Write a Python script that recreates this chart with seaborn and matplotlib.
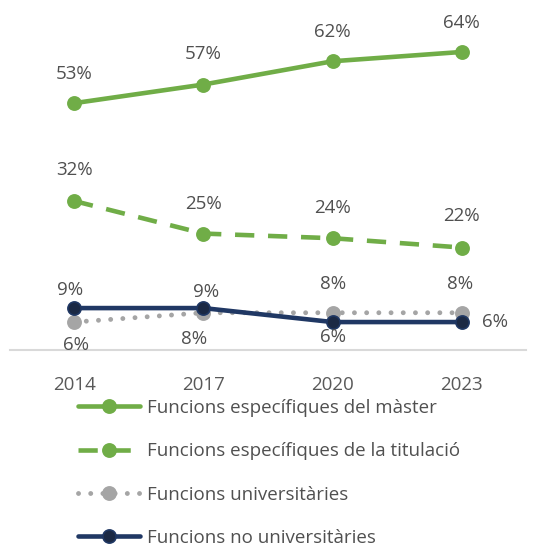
import matplotlib

matplotlib.use("Agg")
import matplotlib.pyplot as plt
import pandas as pd
import seaborn as sns

years = ["2014", "2017", "2020", "2023"]
master = [53, 57, 62, 64]
titulacio = [32, 25, 24, 22]
universitaries = [6, 8, 8, 8]
no_universitaries = [9, 9, 6, 6]

labels = [
    "Funcions específiques del màster",
    "Funcions específiques de la titulació",
    "Funcions universitàries",
    "Funcions no universitàries",
]

sns.set_theme(style="white")
plt.rcParams["font.family"] = ["Open Sans", "DejaVu Sans"]

GREEN = "#70AD47"
GRAY = "#A5A5A5"
NAVY = "#203864"
TEXT = "#505050"
FS = 13.5

fig = plt.figure(figsize=(5.59, 5.48), dpi=100)
ax = fig.add_axes([9.5 / 559, 1 - 350 / 548, 517 / 559, 326 / 548])

styles = [
    dict(color=GREEN, lw=3.3, ls="-", mfc=GREEN, mec=GREEN),
    dict(color=GREEN, lw=3.3, ls=(0, (4.2, 3.0)), mfc=GREEN, mec=GREEN),
    dict(color=GRAY, lw=3.5, ls=(0, (0.01, 2.5)), mfc=GRAY, mec=GRAY),
    dict(color=NAVY, lw=3.3, ls="-", mfc="#1B2944", mec=NAVY),
]
series = [master, titulacio, universitaries, no_universitaries]

handles = []
for vals, lab, st in zip(series, labels, styles):
    df = pd.DataFrame({"year": years, "value": vals})
    sns.lineplot(data=df, x="year", y="value", ax=ax, color=st["color"],
                 linewidth=st["lw"], marker="o", markersize=9.5,
                 markerfacecolor=st["mfc"], markeredgecolor=st["mec"],
                 markeredgewidth=1.2, label=lab)
    line = ax.get_lines()[-1]
    line.set_linestyle(st["ls"])
    if st["color"] == GRAY:
        line.set_dash_capstyle("round")
    handles.append(line)

# data labels: offsets in pixels (dx, dy)
offsets = [
    [(0, 29), (0, 31), (0, 29), (0, 29)],
    [(0, 31), (0, 30), (0, 30), (0, 32)],
    [(2, -23), (-9, -26), (0, 29), (-2, 29)],
    [(-4, 18), (3, 16), (0, -15), (33, 0)],
]
for vals, offs in zip(series, offsets):
    for i, (v, (dx, dy)) in enumerate(zip(vals, offs)):
        ax.annotate(f"{v}%", (i, v), xytext=(dx, dy), textcoords="offset pixels",
                    ha="center", va="center", fontsize=FS, color=TEXT)

ax.set_xlim(-0.5, 3.5)
ax.set_ylim(0, 70)
ax.set_yticks([])
ax.set_xlabel("")
ax.set_ylabel("")
for s in ["top", "right", "left"]:
    ax.spines[s].set_visible(False)
ax.spines["bottom"].set_color("#D9D9D9")
ax.spines["bottom"].set_linewidth(1.5)
ax.tick_params(axis="x", length=0, pad=19, labelsize=FS, labelcolor="#595959")
ax.get_legend().remove()

fig.legend(handles=handles, labels=labels, loc="upper left",
           bbox_to_anchor=(78 / 559, 1 - 399 / 548), frameon=False,
           fontsize=FS, labelcolor=TEXT, borderpad=0, borderaxespad=0,
           handlelength=3.3, handletextpad=0.38, labelspacing=1.35)

fig.savefig("out.png", dpi=100)
